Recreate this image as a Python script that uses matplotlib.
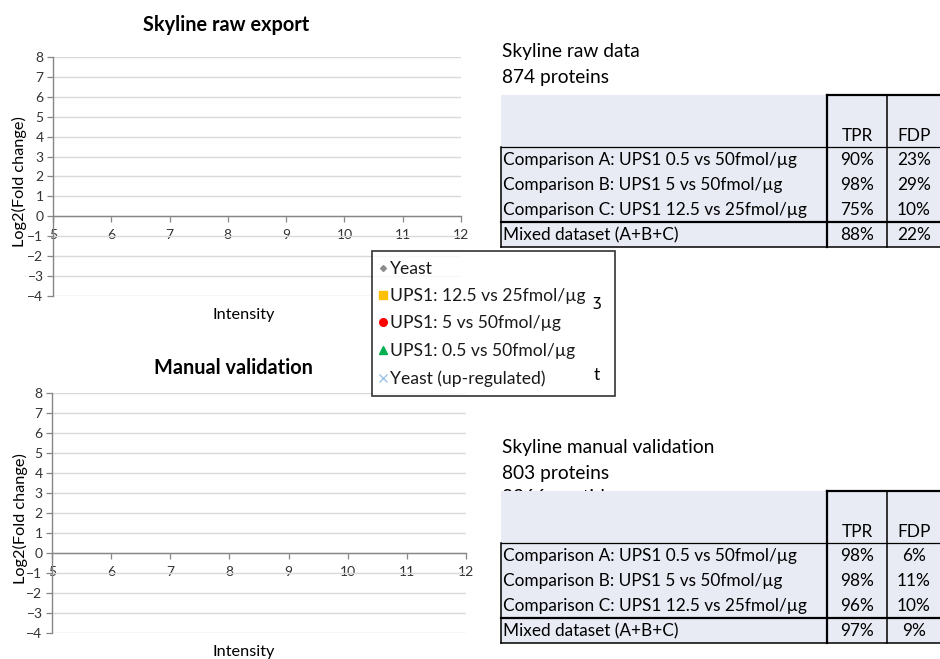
import matplotlib
matplotlib.use('Agg')
import matplotlib.pyplot as plt

plt.rcParams['font.family'] = ['Lato', 'DejaVu Sans']

# series (the scatter plots are empty in the reference)
yeast_x, yeast_y = [], []
ups1_12_x, ups1_12_y = [], []
ups1_5_x, ups1_5_y = [], []
ups1_05_x, ups1_05_y = [], []
yeast_up_x, yeast_up_y = [], []

series_labels = ['Yeast', 'UPS1: 12.5 vs 25fmol/µg', 'UPS1: 5 vs 50fmol/µg',
                 'UPS1: 0.5 vs 50fmol/µg', 'Yeast (up-regulated)']

x_ticks = [5, 6, 7, 8, 9, 10, 11, 12]
y_ticks = [-4, -3, -2, -1, 0, 1, 2, 3, 4, 5, 6, 7, 8]

# tables
row_names = ['Comparison A: UPS1 0.5 vs 50fmol/µg', 'Comparison B: UPS1 5 vs 50fmol/µg',
             'Comparison C: UPS1 12.5 vs 25fmol/µg', 'Mixed dataset (A+B+C)']
raw_tpr = [90, 98, 75, 88]
raw_fdp = [23, 29, 10, 22]
manual_tpr = [98, 98, 96, 97]
manual_fdp = [6, 11, 10, 9]
raw_info = ['Skyline raw data', '874 proteins']
manual_info = ['Skyline manual validation', '803 proteins', '2266 peptides']

W, H = 940, 659
fig = plt.figure(figsize=(W / 100, H / 100), dpi=100)

# overlay in pixel coords for the tables
ov = fig.add_axes([0, 0, 1, 1], zorder=0)
ov.set_xlim(0, W)
ov.set_ylim(H, 0)
ov.axis('off')

GRID = '#D9D9D9'
AXC = '#868686'
TXT = '#333333'
TFS = 12.4  # table / legend font size


def setup_chart(rect, title, title_xy, xlabel_xy, ylabel_xy):
    ax = fig.add_axes([rect[0] / W, 1 - rect[3] / H, (rect[2] - rect[0]) / W,
                       (rect[3] - rect[1]) / H], zorder=1)
    ax.set_facecolor('none')
    ax.set_xlim(5, 12)
    ax.set_ylim(-4, 8)
    ax.set_xticks(x_ticks)
    ax.set_yticks(y_ticks)
    ax.spines['top'].set_visible(False)
    ax.spines['right'].set_visible(False)
    ax.spines['bottom'].set_position(('data', 0))
    for s in ['bottom', 'left']:
        ax.spines[s].set_color(AXC)
        ax.spines[s].set_linewidth(1.0)
    ax.yaxis.grid(True, color=GRID, lw=1.0)
    ax.set_axisbelow(True)
    ax.tick_params(axis='both', colors=AXC, labelcolor=TXT, direction='out',
                   length=4.3, width=0.9, labelsize=10)
    ax.tick_params(axis='x', pad=5.0)
    ax.tick_params(axis='y', pad=2.5)
    fig.text(title_xy[0] / W, 1 - title_xy[1] / H, title, ha='center', va='center',
             fontsize=14.3, fontweight='bold', color='black')
    fig.text(xlabel_xy[0] / W, 1 - xlabel_xy[1] / H, 'Intensity', ha='center', va='center',
             fontsize=11.7, color='black')
    fig.text(ylabel_xy[0] / W, 1 - ylabel_xy[1] / H, 'Log2(Fold change)', ha='center',
             va='center', rotation=90, fontsize=11.7, color='black')
    return ax


ax1 = setup_chart((53, 57, 461, 296), 'Skyline raw export', (226, 25), (244, 315), (19, 182))
ax2 = setup_chart((52, 393, 466, 633), 'Manual validation', (233, 368), (244, 652), (20, 519))

handles = []
handles += ax1.plot(yeast_x, yeast_y, ls='none', marker='D', ms=3, color='#8C8C8C')
handles += ax1.plot(ups1_12_x, ups1_12_y, ls='none', marker='s', ms=6, color='#FFC000')
handles += ax1.plot(ups1_5_x, ups1_5_y, ls='none', marker='o', ms=5.5, color='#FF0000')
handles += ax1.plot(ups1_05_x, ups1_05_y, ls='none', marker='^', ms=5.5, color='#00B050')
handles += ax1.plot(yeast_up_x, yeast_up_y, ls='none', marker='x', ms=6, mew=1,
                    color='#9DC3E6')
ax2.plot(yeast_x, yeast_y, ls='none', marker='D', ms=3, color='#8C8C8C')
ax2.plot(ups1_12_x, ups1_12_y, ls='none', marker='s', ms=6, color='#FFC000')
ax2.plot(ups1_5_x, ups1_5_y, ls='none', marker='o', ms=5.5, color='#FF0000')
ax2.plot(ups1_05_x, ups1_05_y, ls='none', marker='^', ms=5.5, color='#00B050')
ax2.plot(yeast_up_x, yeast_up_y, ls='none', marker='x', ms=6, color='#9DC3E6')

lx0, ly0, lx1, ly1 = 372, 251, 615, 397
leg = fig.legend(handles, series_labels, loc='upper left',
                 bbox_to_anchor=(lx0 / W, 1 - ly1 / H, (lx1 - lx0) / W, (ly1 - ly0) / H),
                 mode='expand', borderaxespad=0, fontsize=12.6, frameon=True, fancybox=False,
                 handlelength=0.1, handletextpad=0.35, borderpad=0.55, labelspacing=0.65,
                 numpoints=1)
leg.get_frame().set_edgecolor('black')
leg.get_frame().set_linewidth(1.2)
for t in leg.get_texts():
    t.set_color('#1a1a1a')

# bits of hidden cell text peeking through the legend
fig.text(597 / W, 1 - 302 / H, 'ʒ', ha='center', va='center', fontsize=11, zorder=6,
         family=['DejaVu Sans'])
fig.text(597 / W, 1 - 375 / H, 't', ha='center', va='center', fontsize=12.6, zorder=6)


def draw_table(top, info, tpr, fdp):
    # info text above the table (partly hidden behind it)
    for i, line in enumerate(info):
        ov.text(502, top - 43 + 25 * i, line, ha='left', va='center', fontsize=13.8,
                color='black', zorder=1)
    ov.add_patch(plt.Rectangle((501, top), W - 501, 152, facecolor='#E8EBF4',
                               edgecolor='none', zorder=2))
    hb = top + 52
    mix = top + 127
    bot = top + 152
    ov.plot([827, W], [top, top], color='black', lw=1.6, zorder=3)
    ov.plot([827, 827], [top, bot], color='black', lw=1.6, zorder=3)
    ov.plot([887, 887], [top, bot], color='black', lw=1.1, zorder=3)
    ov.plot([501, W], [hb, hb], color='black', lw=0.9, zorder=3)
    ov.plot([501, W], [mix, mix], color='black', lw=1.6, zorder=3)
    ov.plot([501, W], [bot, bot], color='black', lw=1.1, zorder=3)
    ov.plot([501, 501], [hb, bot], color='black', lw=1.1, zorder=3)
    ov.text(857, top + 41, 'TPR', ha='center', va='center', fontsize=TFS, zorder=4)
    ov.text(914, top + 41, 'FDP', ha='center', va='center', fontsize=TFS, zorder=4)
    for i, name in enumerate(row_names):
        y = top + 65 + 25 * i
        ov.text(503, y, name, ha='left', va='center', fontsize=TFS, zorder=4)
        ov.text(857, y, f'{tpr[i]}%', ha='center', va='center', fontsize=TFS, zorder=4)
        ov.text(914, y, f'{fdp[i]}%', ha='center', va='center', fontsize=TFS, zorder=4)


draw_table(95, raw_info, raw_tpr, raw_fdp)
draw_table(491, manual_info, manual_tpr, manual_fdp)

fig.savefig('out.png', dpi=100)
